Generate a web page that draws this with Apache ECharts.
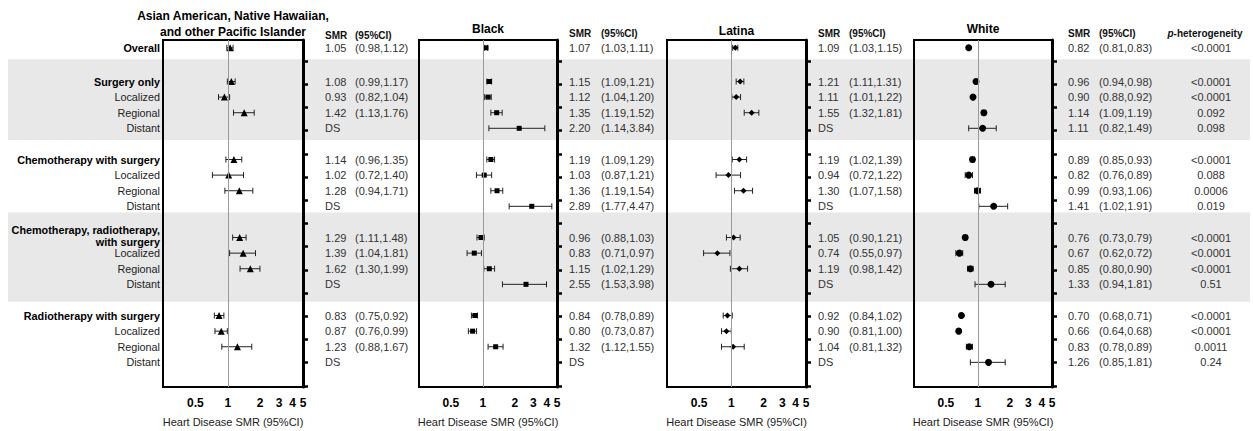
<!DOCTYPE html>
<html><head><meta charset="utf-8">
<script src="https://cdn.jsdelivr.net/npm/echarts@6/dist/echarts.min.js"></script>
<style>html,body{margin:0;padding:0;background:#fff}#c{width:1253px;height:431px}</style>
</head><body><div id="c"></div>
<script>
// ---------- data ----------
const rowLabels = ['Overall','Surgery only','Localized','Regional','Distant',
  'Chemotherapy with surgery','Localized','Regional','Distant',
  'Chemotherapy, radiotherapy,\nwith surgery','Localized','Regional','Distant',
  'Radiotherapy with surgery','Localized','Regional','Distant'];
const rowIsHeader = [1,1,0,0,0,1,0,0,0,1,0,0,0,1,0,0,0];
const groupNames = ['Asian American, Native Hawaiian,\nand other Pacific Islander','Black','Latina','White'];

const aaSmr = [1.05, 1.08,0.93,1.42,null, 1.14,1.02,1.28,null, 1.29,1.39,1.62,null, 0.83,0.87,1.23,null];
const aaLo  = [0.98, 0.99,0.82,1.13,null, 0.96,0.72,0.94,null, 1.11,1.04,1.30,null, 0.75,0.76,0.88,null];
const aaHi  = [1.12, 1.17,1.04,1.76,null, 1.35,1.40,1.71,null, 1.48,1.81,1.99,null, 0.92,0.99,1.67,null];

const blSmr = [1.07, 1.15,1.12,1.35,2.20, 1.19,1.03,1.36,2.89, 0.96,0.83,1.15,2.55, 0.84,0.80,1.32,null];
const blLo  = [1.03, 1.09,1.04,1.19,1.14, 1.09,0.87,1.19,1.77, 0.88,0.71,1.02,1.53, 0.78,0.73,1.12,null];
const blHi  = [1.11, 1.21,1.20,1.52,3.84, 1.29,1.21,1.54,4.47, 1.03,0.97,1.29,3.98, 0.89,0.87,1.55,null];

const laSmr = [1.09, 1.21,1.11,1.55,null, 1.19,0.94,1.30,null, 1.05,0.74,1.19,null, 0.92,0.90,1.04,null];
const laLo  = [1.03, 1.11,1.01,1.32,null, 1.02,0.72,1.07,null, 0.90,0.55,0.98,null, 0.84,0.81,0.81,null];
const laHi  = [1.15, 1.31,1.22,1.81,null, 1.39,1.22,1.58,null, 1.21,0.97,1.42,null, 1.02,1.00,1.32,null];

const whSmr = [0.82, 0.96,0.90,1.14,1.11, 0.89,0.82,0.99,1.41, 0.76,0.67,0.85,1.33, 0.70,0.66,0.83,1.26];
const whLo  = [0.81, 0.94,0.88,1.09,0.82, 0.85,0.76,0.93,1.02, 0.73,0.62,0.80,0.94, 0.68,0.64,0.78,0.85];
const whHi  = [0.83, 0.98,0.92,1.19,1.49, 0.93,0.89,1.06,1.91, 0.79,0.72,0.90,1.81, 0.71,0.68,0.89,1.81];

const pHet = ['<0.0001', '<0.0001','<0.0001','0.092','0.098', '<0.0001','0.088','0.0006','0.019',
  '<0.0001','<0.0001','<0.0001','0.51', '<0.0001','<0.0001','0.0011','0.24'];

const xTickValues = [0.5, 1, 2, 3, 4, 5];
const axisTitle = 'Heart Disease SMR (95%CI)';

// ---------- layout ----------
const FONT = '"Liberation Sans", Arial, Helvetica, sans-serif';
const panels = [
  {smr: aaSmr, lo: aaLo, hi: aaHi, left: 163, w: 140, symbol: 'triangle', size: 7, smrX: 325, ciX: 355, headY: 35, titleY: 24},
  {smr: blSmr, lo: blLo, hi: blHi, left: 419, w: 138, symbol: 'rect', size: 5, smrX: 569, ciX: 601, headY: 33, titleY: 29},
  {smr: laSmr, lo: laLo, hi: laHi, left: 667, w: 139, symbol: 'diamond', size: 6, smrX: 818, ciX: 849, headY: 33, titleY: 31},
  {smr: whSmr, lo: whLo, hi: whHi, left: 914, w: 138, symbol: 'circle', size: 7, smrX: 1068, ciX: 1099, headY: 33, titleY: 29}
];
const GRID_TOP = 40, GRID_H = 347;
const Y_MAX = 22.24;
function rowPos(i) {
  if (i === 0) return 0.5;
  const g = Math.floor((i - 1) / 4), s = (i - 1) % 4;
  return 2.66 + 5 * g + s;
}
const yTicks = [];
for (let k = 0; k < 15; k++) yTicks.push(1.346 + 1.487 * k);
const bands = [[1.24, 6.41], [11.06, 16.78]];

const chart = echarts.init(document.getElementById('c'), null, {renderer: 'svg'});

const grids = [], xAxes = [], yAxes = [], series = [];
panels.forEach((p, pi) => {
  grids.push({left: p.left, top: GRID_TOP, width: p.w, height: GRID_H, show: true,
    outerBoundsMode: 'none', containLabel: false,
    borderColor: '#000', borderWidth: 2, backgroundColor: 'transparent'});
  xAxes.push({type: 'log', logBase: 10, min: 0.25, max: 5, gridIndex: pi,
    axisLine: {show: true, onZero: false, lineStyle: {color: '#000', width: 2}},
    axisTick: {show: false}, splitLine: {show: false}, minorTick: {show: false},
    axisLabel: {customValues: xTickValues, formatter: v => String(+(+v).toPrecision(3)),
      fontWeight: 'bold', fontSize: 12, color: '#000', margin: 10, fontFamily: FONT},
    name: axisTitle, nameLocation: 'middle', nameGap: 29,
    nameTextStyle: {fontSize: 11, color: '#222', fontFamily: FONT}});
  yAxes.push({type: 'value', inverse: true, min: 0, max: Y_MAX, position: 'right', gridIndex: pi,
    axisLine: {show: true, lineStyle: {color: '#000', width: 3}},
    axisTick: {show: true, customValues: yTicks, length: 5, lineStyle: {color: '#000', width: 2.5}},
    axisLabel: {show: false}, splitLine: {show: false}});
  const errData = [], ptData = [];
  p.smr.forEach((v, i) => {
    if (v == null) return;
    errData.push([p.lo[i], p.hi[i], rowPos(i)]);
    ptData.push([v, rowPos(i)]);
  });
  series.push({type: 'custom', xAxisIndex: pi, yAxisIndex: pi, data: errData, encode: {x: [0, 1], y: 2},
    silent: true, z: 3,
    renderItem: (params, api) => {
      const a = api.coord([api.value(0), api.value(2)]);
      const b = api.coord([api.value(1), api.value(2)]);
      const h = 3, st = {stroke: '#222', lineWidth: 1};
      return {type: 'group', children: [
        {type: 'line', shape: {x1: a[0], y1: a[1], x2: b[0], y2: b[1]}, style: st},
        {type: 'line', shape: {x1: a[0], y1: a[1] - h, x2: a[0], y2: a[1] + h}, style: st},
        {type: 'line', shape: {x1: b[0], y1: b[1] - h, x2: b[0], y2: b[1] + h}, style: st}
      ]};
    },
    markLine: {silent: true, symbol: 'none', label: {show: false}, animation: false,
      lineStyle: {color: '#999', width: 1, type: 'solid'}, data: [{xAxis: 1}]}
  });
  series.push({type: 'scatter', xAxisIndex: pi, yAxisIndex: pi, data: ptData, symbol: p.symbol,
    symbolSize: p.size, itemStyle: {color: '#000', opacity: 1}, z: 4, silent: true});
});

chart.setOption({animation: false, grid: grids, xAxis: xAxes, yAxis: yAxes, series: series});

// ---------- text & bands ----------
const py = v => chart.convertToPixel({yAxisIndex: 0}, v);
const g = [];
bands.forEach(b => {
  const y1 = py(b[0]), y2 = py(b[1]);
  g.push({type: 'rect', silent: true, z: -100, shape: {x: 8, y: y1, width: 1242, height: y2 - y1},
    style: {fill: '#e8e8e8'}});
});
function txt(x, y, text, opts) {
  g.push({type: 'text', x: x, y: y, silent: true, z: 10,
    style: Object.assign({text: text, fontFamily: FONT, fontSize: 11, fill: '#333',
      align: 'left', verticalAlign: 'middle'}, opts || {})});
}
rowLabels.forEach((lab, i) => {
  const multi = lab.indexOf('\n') >= 0;
  txt(160, py(rowPos(i)) - (multi ? 1.5 : 0), lab, {align: 'right', fill: rowIsHeader[i] ? '#000' : '#222',
    fontWeight: rowIsHeader[i] ? 'bold' : 'normal', fontSize: 10.8, lineHeight: 12});
});
panels.forEach((p, pi) => {
  txt(p.left + p.w / 2, p.titleY, groupNames[pi], {align: 'center', fontWeight: 'bold', fontSize: 12,
    fill: '#000', lineHeight: 16});
  txt(p.smrX, p.headY, 'SMR', {fontWeight: 'bold', fontSize: 10, fill: '#111'});
  txt(p.ciX, p.headY, '(95%CI)', {fontWeight: 'bold', fontSize: 10, fill: '#111'});
  p.smr.forEach((v, i) => {
    const y = py(rowPos(i));
    if (v == null) { txt(p.smrX, y, 'DS'); return; }
    txt(p.smrX, y, v.toFixed(2));
    txt(p.ciX, y, '(' + p.lo[i].toFixed(2) + ',' + p.hi[i].toFixed(2) + ')');
  });
});
txt(1205, 33, '{i|p}-heterogeneity', {align: 'center', fontWeight: 'bold', fontSize: 10, fill: '#111',
  rich: {i: {fontStyle: 'italic', fontWeight: 'bold', fontSize: 10, fontFamily: FONT, fill: '#111'}}});
pHet.forEach((t, i) => txt(1211, py(rowPos(i)), t, {align: 'center'}));

chart.setOption({graphic: {elements: g}});
</script></body></html>
